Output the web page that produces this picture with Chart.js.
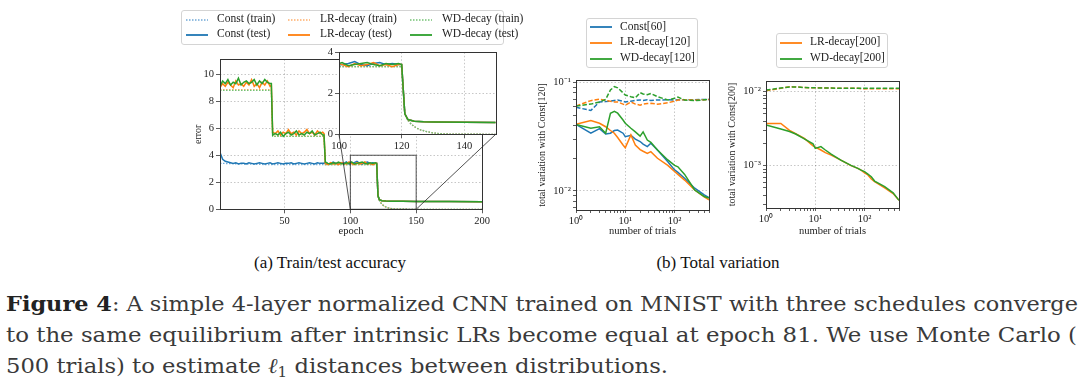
<!DOCTYPE html>
<html>
<head>
<meta charset="utf-8">
<script src="https://cdn.jsdelivr.net/npm/chart.js@4.4.1/dist/chart.umd.min.js"></script>
<style>
  body { margin: 0; width: 1080px; height: 388px; background: #fff; overflow: hidden; position: relative; }
  .box { position: absolute; }
  .legend { position: absolute; border: 1px solid #d4d4d4; border-radius: 3px; background: rgba(255,255,255,0.85);
            font-family: "Liberation Serif", serif; color: #222; }
  .item { position: absolute; white-space: nowrap; }
  .swatch { position: absolute; width: 22px; height: 4px; overflow: visible; }
  .sub { position: absolute; font-family: "Liberation Serif", serif; font-size: 17px; color: #111; line-height: 20px;
         white-space: nowrap; transform: translateX(-50%); }
  .cap { position: absolute; left: 6px; font-family: "DejaVu Serif", serif; font-size: 21px; line-height: 25px;
         color: #3a3a3a; white-space: nowrap; transform-origin: 0 0; }
  .cap b { color: #222; }
  .cap sub { font-size: 14px; vertical-align: -4px; line-height: 0; }
</style>
</head>
<body>

<div class="box" style="left:170px;top:45px;width:330px;height:200px"><canvas id="main"></canvas></div>
<div class="box" style="left:310px;top:44px;width:195px;height:108px;z-index:2"><canvas id="inset"></canvas></div>
<div class="box" style="left:532px;top:70px;width:187px;height:175px"><canvas id="tv120"></canvas></div>
<div class="box" style="left:722px;top:70px;width:187px;height:175px"><canvas id="tv200"></canvas></div>

<div class="legend" id="legA" style="left:181px;top:10px;width:321px;height:33px;z-index:3"></div>
<div class="legend" id="legB" style="left:586px;top:18px;width:110px;height:48px;z-index:3"></div>
<div class="legend" id="legC" style="left:776px;top:33px;width:110px;height:33px;z-index:3"></div>

<div class="sub" style="left:330px;top:253px">(a) Train/test accuracy</div>
<div class="sub" style="left:718px;top:253px">(b) Total variation</div>

<div class="cap" style="top:291px" data-w="1072"><span><b>Figure 4</b>: A simple 4-layer normalized CNN trained on MNIST with three schedules converge</span></div>
<div class="cap" style="top:323px" data-w="1071"><span>to the same equilibrium after intrinsic LRs become equal at epoch 81. We use Monte Carlo (</span></div>
<div class="cap" style="top:354px" data-w="662"><span>500 trials) to estimate <i>ℓ</i><sub>1</sub> distances between distributions.</span></div>

<script>
// ---- data: (a) train/test error per epoch ----
const testEpochs = [1,3,5,7,9,11,13,15,17,19,21,23,25,27,29,31,33,35,37,39,40,
  41,43,45,47,49,51,53,55,57,59,61,63,65,67,69,71,73,75,77,79,80,
  81,83,85,87,89,91,93,95,97,99,101,103,105,107,109,111,113,115,117,119,120,
  121,122,124,127,130,140,150,175,200];
const constTest = [4.2,3.7,3.55,3.5,3.45,3.4,3.45,3.35,3.4,3.4,3.35,3.45,3.4,3.35,3.4,3.45,3.4,3.35,3.4,3.45,3.4,
  3.35,3.4,3.45,3.4,3.35,3.4,3.4,3.45,3.35,3.4,3.45,3.4,3.35,3.4,3.45,3.4,3.35,3.45,3.4,3.4,3.4,
  3.45,3.35,3.4,3.5,3.4,3.35,3.45,3.4,3.5,3.35,3.4,3.45,3.55,3.4,3.35,3.45,3.5,3.4,3.45,3.4,3.4,
  1.0,0.72,0.64,0.61,0.6,0.59,0.58,0.57,0.56];
const lrTest = [9.0,9.3,9.1,9.4,9.2,9.0,9.5,9.2,9.3,9.1,9.4,9.2,9.6,9.1,9.3,9.0,9.4,9.2,9.5,9.1,9.2,
  5.7,5.6,5.8,5.5,5.7,5.6,5.9,5.6,5.7,5.5,5.8,5.6,5.7,5.9,5.6,5.7,5.5,5.8,5.6,5.7,5.6,
  3.4,3.3,3.45,3.35,3.4,3.3,3.45,3.4,3.35,3.5,3.4,3.3,3.45,3.35,3.4,3.5,3.35,3.4,3.3,3.4,3.4,
  1.0,0.72,0.64,0.61,0.6,0.59,0.58,0.57,0.56];
const wdTest = [9.1,9.5,9.3,9.6,9.2,9.4,9.3,9.7,9.2,9.4,9.5,9.3,9.4,9.6,9.2,9.5,9.3,9.6,9.4,9.3,9.3,
  5.5,5.6,5.5,5.7,5.4,5.6,5.7,5.5,5.6,5.8,5.5,5.6,5.5,5.7,5.6,5.8,5.5,5.6,5.7,5.5,5.5,
  3.5,3.4,3.35,3.45,3.4,3.5,3.4,3.35,3.45,3.4,3.5,3.35,3.4,3.45,3.5,3.4,3.35,3.45,3.4,3.45,3.4,
  1.0,0.72,0.64,0.61,0.6,0.59,0.58,0.57,0.56];

const trainEpochs = [1,40,41,80,81,120,121,122,123,124,125,126,128,130,132,135,140,150,200];
const constTrain = [3.4,3.3,3.3,3.3,3.3,3.3,1.0,0.68,0.5,0.38,0.29,0.22,0.13,0.07,0.035,0.012,0.003,0,0];
const lrTrain = [8.85,8.85,5.42,5.42,3.3,3.3,1.0,0.68,0.5,0.38,0.29,0.22,0.13,0.07,0.035,0.012,0.003,0,0];
const wdTrain = [8.8,8.8,5.4,5.4,3.3,3.3,1.0,0.68,0.5,0.38,0.29,0.22,0.13,0.07,0.035,0.012,0.003,0,0];

const epochTicks = [50, 100, 150, 200];
const errorTicks = [0, 2, 4, 6, 8, 10];
const insetXTicks = [100, 120, 140];
const insetYTicks = [0, 2, 4];
const insetRange = [100, 150, 0, 4];

// ---- data: (b) total variation vs number of trials ----
const trials120 = [1,2,3,4,5,6,7,9,10,13,16,20,23,28,33,45,73,100,117,160,256,400,500];
const const60 = [0.041,0.034,0.0375,0.0335,0.034,0.036,0.0364,0.034,0.0316,0.0325,0.030,0.0285,0.027,0.0256,0.0275,0.0238,0.0186,0.0156,0.0148,0.0131,0.0106,0.0092,0.0087];
const lr120 = [0.041,0.0444,0.042,0.039,0.036,0.034,0.031,0.0265,0.025,0.0328,0.0265,0.024,0.0232,0.0222,0.023,0.020,0.0172,0.0151,0.0142,0.0126,0.0102,0.0088,0.0083];
const wd120 = [0.041,0.0378,0.039,0.034,0.0519,0.054,0.052,0.045,0.042,0.0378,0.035,0.032,0.035,0.0294,0.028,0.0238,0.0193,0.0172,0.0167,0.0142,0.0102,0.0089,0.0086];
const const60Dash = [0.059,0.055,0.066,0.0664,0.067,0.068,0.0688,0.067,0.066,0.067,0.068,0.0688,0.068,0.069,0.068,0.0688,0.069,0.0688,0.069,0.069,0.0692,0.0695,0.0695];
const lr120Dash = [0.0606,0.0678,0.070,0.068,0.067,0.066,0.066,0.063,0.0616,0.066,0.063,0.0616,0.063,0.0638,0.064,0.0629,0.0648,0.067,0.0688,0.069,0.0688,0.069,0.0695];
const wd120Dash = [0.0606,0.063,0.066,0.0695,0.085,0.0912,0.089,0.080,0.0763,0.0737,0.072,0.0803,0.078,0.077,0.079,0.0737,0.0688,0.0712,0.073,0.0688,0.0678,0.069,0.0695];

const trials200 = [1,2,3,4,6,9,10,13,16,21,33,53,73,85,100,117,137,160,256,380,500];
const lr200 = [0.00373,0.00373,0.0030,0.0027,0.00234,0.00185,0.00178,0.00163,0.0015,0.00139,0.00119,0.001,0.00092,0.00087,0.0008,0.00075,0.00066,0.00061,0.0005,0.00042,0.00034];
const wd200 = [0.00355,0.00314,0.0029,0.00268,0.0023,0.00198,0.00171,0.00181,0.00163,0.00143,0.00119,0.00101,0.00092,0.00087,0.00083,0.00077,0.00071,0.00062,0.00052,0.00043,0.00034];
const lr200Dash = [0.0103,0.0111,0.0117,0.0116,0.0114,0.0113,0.0113,0.0113,0.0112,0.0112,0.0111,0.0111,0.0111,0.011,0.011,0.011,0.011,0.011,0.011,0.011,0.011];
const wd200Dash = [0.0105,0.0112,0.0116,0.0116,0.0114,0.0113,0.0113,0.0112,0.0112,0.0112,0.0111,0.0111,0.0111,0.0111,0.0111,0.0111,0.0111,0.0111,0.0111,0.0111,0.0111];

const trialTicks = [1,2,3,4,5,6,7,8,9,10,20,30,40,50,60,70,80,90,100,200,300,400,500];
const tv120Ticks = [0.007,0.008,0.009,0.01,0.02,0.03,0.04,0.05,0.06,0.07,0.08,0.09,0.1];
const tv200Ticks = [0.0003,0.0004,0.0005,0.0006,0.0007,0.0008,0.0009,0.001,0.002,0.003,0.004,0.005,0.006,0.007,0.008,0.009,0.01];
const powerLabels = { 1: '10⁰', 10: '10¹', 100: '10²', 0.1: '10⁻¹', 0.01: '10⁻²', 0.001: '10⁻³' };

const BLUE = '#1f77b4', ORANGE = '#ff7f0e', GREEN = '#2ca02c';
const BLUE_L = '#6fa8d6', ORANGE_L = '#ffae6a', GREEN_L = '#74c274';

Chart.defaults.font.family = '"Liberation Serif", serif';
Chart.defaults.font.size = 10.5;
Chart.defaults.color = '#222';
Chart.defaults.animation = false;

function pts(xs, ys) { return xs.map((x, i) => ({ x: x, y: ys[i] })); }

function line(label, xs, ys, color, kind) {
  return {
    label: label, data: pts(xs, ys), borderColor: color, backgroundColor: color,
    borderWidth: kind === 'dot' ? 1.3 : 1.5,
    borderDash: kind === 'dot' ? [1.5, 1.5] : kind === 'dash' ? [4.5, 2] : [],
    pointRadius: 0, tension: 0, fill: false
  };
}

const framePlugin = {
  id: 'frame',
  afterDraw(chart) {
    const a = chart.chartArea, ctx = chart.ctx;
    ctx.save();
    ctx.strokeStyle = '#333';
    ctx.lineWidth = 1;
    ctx.strokeRect(Math.round(a.left) + 0.5, Math.round(a.top) + 0.5,
                   Math.round(a.right - a.left), Math.round(a.bottom - a.top));
    ctx.restore();
  }
};

const whitePlot = {
  id: 'whitePlot',
  beforeDraw(chart) {
    const a = chart.chartArea, ctx = chart.ctx;
    ctx.save();
    ctx.fillStyle = '#fff';
    ctx.fillRect(a.left, a.top, a.right - a.left, a.bottom - a.top);
    ctx.restore();
  }
};

function fixedTicks(list) {
  return scale => { scale.ticks = list.map(v => ({ value: v })); };
}

function gridAt(majors) {
  return ctx => (ctx.tick && majors.includes(ctx.tick.value)) ? 'rgba(0,0,0,0.22)' : 'rgba(0,0,0,0)';
}

function axis(extra) {
  return Object.assign({
    border: { display: false, dash: [1.5, 2] },
    grid: { tickLength: 4, tickColor: '#333', tickWidth: 0.8 },
    ticks: { autoSkip: false, maxRotation: 0, padding: 2 }
  }, extra);
}

const baseOpts = {
  responsive: true, maintainAspectRatio: false, events: [],
  plugins: { legend: { display: false }, tooltip: { enabled: false } }
};

function errorSets() {
  return [
    line('WD-decay (test)', testEpochs, wdTest, GREEN, 'solid'),
    line('LR-decay (test)', testEpochs, lrTest, ORANGE, 'solid'),
    line('Const (test)', testEpochs, constTest, BLUE, 'solid'),
    line('WD-decay (train)', trainEpochs, wdTrain, GREEN_L, 'dot'),
    line('LR-decay (train)', trainEpochs, lrTrain, ORANGE_L, 'dot'),
    line('Const (train)', trainEpochs, constTrain, BLUE_L, 'dot')
  ];
}

// ---- inset (zoom of epochs 100..150) ----
const insetChart = new Chart(document.getElementById('inset'), {
  type: 'line',
  data: { datasets: errorSets() },
  options: Object.assign({}, baseOpts, {
    layout: { padding: { left: 0, right: 9.3, top: 7.7, bottom: 0 } },
    scales: {
      x: axis({ type: 'linear', min: insetRange[0], max: insetRange[1],
        afterBuildTicks: fixedTicks(insetXTicks), afterFit: s => { s.height = 17.7; },
        grid: { tickLength: 4, tickColor: '#333', tickWidth: 0.8, color: gridAt([120, 140]) } }),
      y: axis({ min: insetRange[2], max: insetRange[3],
        afterBuildTicks: fixedTicks(insetYTicks), afterFit: s => { s.width = 29; },
        grid: { tickLength: 4, tickColor: '#333', tickWidth: 0.8, color: gridAt([2]) } })
    }
  }),
  plugins: [whitePlot, framePlugin]
});

const zoomPlugin = {
  id: 'zoomBox',
  afterDraw(chart) {
    const xs = chart.scales.x, ys = chart.scales.y, ctx = chart.ctx;
    const x0 = xs.getPixelForValue(insetRange[0]), x1 = xs.getPixelForValue(insetRange[1]);
    const yb = ys.getPixelForValue(insetRange[2]), yt = ys.getPixelForValue(insetRange[3]);
    const mr = chart.canvas.getBoundingClientRect(), ir = insetChart.canvas.getBoundingClientRect();
    const ia = insetChart.chartArea;
    const dx = ir.left - mr.left, dy = ir.top - mr.top;
    ctx.save();
    ctx.strokeStyle = 'rgba(40,40,40,0.8)';
    ctx.lineWidth = 1;
    ctx.strokeRect(x0, yt, x1 - x0, yb - yt);
    ctx.beginPath();
    ctx.moveTo(x0, yb); ctx.lineTo(dx + ia.left, dy + ia.bottom);
    ctx.moveTo(x1, yb); ctx.lineTo(dx + ia.right, dy + ia.bottom);
    ctx.stroke();
    ctx.restore();
  }
};

// ---- (a) main error chart ----
new Chart(document.getElementById('main'), {
  type: 'line',
  data: { datasets: errorSets() },
  options: Object.assign({}, baseOpts, {
    layout: { padding: { left: 18, right: 18, top: 14.3, bottom: 3 } },
    scales: {
      x: axis({ type: 'linear', min: 1, max: 200,
        afterBuildTicks: fixedTicks(epochTicks), afterFit: s => { s.height = 32.7; },
        grid: { tickLength: 4, tickColor: '#333', tickWidth: 0.8, color: gridAt([50, 100, 150]) },
        title: { display: true, text: 'epoch', padding: { top: 0, bottom: 4 } } }),
      y: axis({ min: 0, max: 11.1,
        afterBuildTicks: fixedTicks(errorTicks), afterFit: s => { s.width = 32; },
        grid: { tickLength: 4, tickColor: '#333', tickWidth: 0.8, color: gridAt([2, 4, 6, 8, 10]) },
        title: { display: true, text: 'error', font: { size: 10 }, padding: { top: 4, bottom: 0 } } })
    }
  }),
  plugins: [framePlugin, zoomPlugin]
});

// ---- (b) total variation charts ----
function tvChart(id, datasets, yMin, yMax, yTicks, yMajors, yTitle, padTop, xHeight) {
  return new Chart(document.getElementById(id), {
    type: 'line',
    data: { datasets: datasets },
    options: Object.assign({}, baseOpts, {
      layout: { padding: { left: 0, right: 10, top: padTop, bottom: 3 } },
      scales: {
        x: axis({ type: 'logarithmic', min: 1, max: 500,
          afterBuildTicks: fixedTicks(trialTicks), afterFit: s => { s.height = xHeight; },
          grid: { tickLength: 3, tickColor: '#333', tickWidth: 0.8, color: gridAt([10, 100]) },
          ticks: { autoSkip: false, maxRotation: 0, padding: 2, callback: v => powerLabels[v] || '' },
          title: { display: true, text: 'number of trials', padding: { top: 0, bottom: 4 } } }),
        y: axis({ type: 'logarithmic', min: yMin, max: yMax,
          afterBuildTicks: fixedTicks(yTicks), afterFit: s => { s.width = 44; },
          grid: { tickLength: 3, tickColor: '#333', tickWidth: 0.8, color: gridAt(yMajors) },
          ticks: { autoSkip: false, maxRotation: 0, padding: 2, callback: v => powerLabels[v] || '' },
          title: { display: true, text: yTitle, font: { size: 10 }, padding: { top: 4, bottom: 0 } } })
      }
    }),
    plugins: [framePlugin]
  });
}

tvChart('tv120', [
  line('WD-decay[120]', trials120, wd120, GREEN, 'solid'),
  line('LR-decay[120]', trials120, lr120, ORANGE, 'solid'),
  line('Const[60]', trials120, const60, BLUE, 'solid'),
  line('WD-decay[120] dashed', trials120, wd120Dash, GREEN, 'dash'),
  line('LR-decay[120] dashed', trials120, lr120Dash, ORANGE, 'dash'),
  line('Const[60] dashed', trials120, const60Dash, BLUE, 'dash')
], 0.00668, 0.105, tv120Ticks, [0.01, 0.1], 'total variation with Const[120]', 10, 32);

tvChart('tv200', [
  line('WD-decay[200]', trials200, wd200, GREEN, 'solid'),
  line('LR-decay[200]', trials200, lr200, ORANGE, 'solid'),
  line('WD-decay[200] dashed', trials200, wd200Dash, GREEN, 'dash'),
  line('LR-decay[200] dashed', trials200, lr200Dash, ORANGE, 'dash')
], 0.000268, 0.01395, tv200Ticks, [0.001, 0.01], 'total variation with Const[200]', 11, 34);

// ---- legends ----
function legend(id, items, size) {
  const el = document.getElementById(id);
  el.style.fontSize = size + 'px';
  items.forEach(it => {
    const sw = document.createElementNS('http://www.w3.org/2000/svg', 'svg');
    sw.setAttribute('class', 'swatch');
    sw.style.left = it.lx + 'px';
    sw.style.top = (it.y - 2) + 'px';
    const ln = document.createElementNS('http://www.w3.org/2000/svg', 'line');
    ln.setAttribute('x1', 0); ln.setAttribute('x2', 22);
    ln.setAttribute('y1', 2); ln.setAttribute('y2', 2);
    ln.setAttribute('stroke', it.c);
    ln.setAttribute('stroke-width', it.dot ? 1.3 : 1.8);
    if (it.dot) ln.setAttribute('stroke-dasharray', '1.5 1.5');
    sw.appendChild(ln);
    el.appendChild(sw);
    const t = document.createElement('div');
    t.className = 'item';
    t.textContent = it.t;
    t.style.left = it.tx + 'px';
    t.style.top = (it.y - size * 0.62) + 'px';
    el.appendChild(t);
  });
}

legend('legA', [
  { t: 'Const (train)', c: BLUE_L, dot: true, lx: 4, tx: 35, y: 8.5 },
  { t: 'Const (test)', c: BLUE, lx: 4, tx: 35, y: 23.5 },
  { t: 'LR-decay (train)', c: ORANGE_L, dot: true, lx: 106, tx: 138, y: 8.5 },
  { t: 'LR-decay (test)', c: ORANGE, lx: 106, tx: 138, y: 23.5 },
  { t: 'WD-decay (train)', c: GREEN_L, dot: true, lx: 228, tx: 260, y: 8.5 },
  { t: 'WD-decay (test)', c: GREEN, lx: 228, tx: 260, y: 23.5 }
], 11.5);

legend('legB', [
  { t: 'Const[60]', c: BLUE, lx: 3, tx: 33, y: 8 },
  { t: 'LR-decay[120]', c: ORANGE, lx: 3, tx: 33, y: 23.5 },
  { t: 'WD-decay[120]', c: GREEN, lx: 3, tx: 33, y: 39.5 }
], 11.5);

legend('legC', [
  { t: 'LR-decay[200]', c: ORANGE, lx: 3, tx: 33, y: 8.5 },
  { t: 'WD-decay[200]', c: GREEN, lx: 3, tx: 33, y: 24.5 }
], 11.5);

// ---- caption lines stretched to the reference widths ----
document.querySelectorAll('.cap').forEach(el => {
  const span = el.firstElementChild;
  const w = span.getBoundingClientRect().width;
  el.style.transform = 'scaleX(' + (Number(el.dataset.w) / w) + ')';
});
</script>
</body>
</html>
